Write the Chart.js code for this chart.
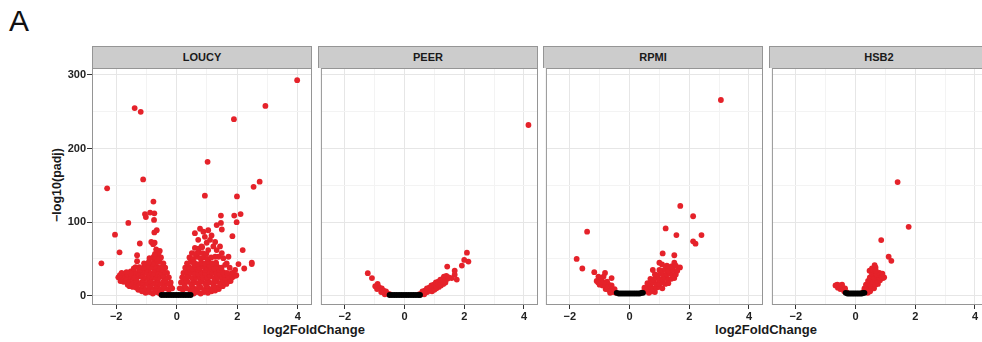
<!DOCTYPE html>
<html>
<head>
<meta charset="utf-8">
<title>Volcano plots</title>
<script src="https://cdn.jsdelivr.net/npm/chart.js@4.4.1/dist/chart.umd.min.js"></script>
<style>
  html, body { margin: 0; padding: 0; background: #ffffff; }
  body { position: relative; width: 982px; height: 342px; overflow: hidden;
         font-family: "Liberation Sans", Arial, sans-serif; }
  .tag { position: absolute; left: 9px; top: 6px; font-size: 30px; line-height: 30px; color: #111; }
  .strip { position: absolute; top: 46px; width: 220px; height: 22px; box-sizing: border-box;
           background: #cccccc; border: 1px solid #959595; border-bottom: none;
           font-weight: bold; font-size: 11px; line-height: 21px; color: #1a1a1a; text-align: center; }
  .panel { position: absolute; top: 58px; }
  .xtitle { position: absolute; top: 323px; font-weight: bold; font-size: 13px; line-height: 13px;
            color: #1a1a1a; white-space: nowrap; transform: translateX(-50%); }
  .ytitle { position: absolute; left: 57px; top: 185px; font-weight: bold; font-size: 12.5px; line-height: 13px;
            color: #1a1a1a; white-space: nowrap; transform: translate(-50%, -50%) rotate(-90deg); }
</style>
</head>
<body>
<div class="tag">A</div>
<div class="ytitle">&minus;log10(padj)</div>
<div class="xtitle" style="left:314px">log2FoldChange</div>
<div class="xtitle" style="left:766px">log2FoldChange</div>
<script>
// Cell lines shown as facets, left to right
const panelNames = ['LOUCY', 'PEER', 'RPMI', 'HSB2'];

// Axis ticks (major + minor grid positions)
const xTickValues = [-2, -1, 0, 1, 2, 3, 4];
const yTickValues = [0, 50, 100, 150, 200, 250, 300];

// Each gene: [log2FoldChange, -log10(padj)]
// ---- LOUCY ----
const loucyNs = [[-0.5,1],[-0.42,1],[-0.34,1],[-0.26,1],[-0.18,1],[-0.1,1],[-0.02,1],[0.06,1],[0.14,1],[0.22,1],[0.3,1],[0.38,1],[0.46,1]];
const loucySig = [
  [3.98,293],[-1.39,255],[-1.19,250],[2.93,258],[1.89,240],[1.02,182],[-1.11,158],[-2.30,146],[2.74,155],[2.54,148],[0.93,136],[1.99,135],
  [-0.77,128],[-1.05,111],[-0.88,113],[-0.74,112],[-1.02,107],[-0.75,103],[-1.60,99],[-2.04,83],[-2.49,44],[-1.89,59],[-1.22,71],
  [-0.66,89],[-0.74,86],[-0.84,73],[-0.73,72],[-0.78,70],[-0.56,61],[-0.62,55],[-1.31,55],[-1.31,47],[-0.92,46],
  [-1.36,39],[-1.19,35],[-1.03,33],[-1.52,33],[-1.68,28],[-1.46,24],[-1.14,28],[-0.92,30],[-0.75,48],[-0.64,39],[-1.77,25],
  [1.46,109],[1.90,109],[2.11,111],[1.98,100],[1.32,96],[1.46,99],[1.49,90],[1.84,81],[2.18,62],[2.48,45],[2.48,43],[2.23,37],[2.04,43],[1.93,35],[1.65,44],
  [0.60,85],[0.77,91],[0.88,87],[1.04,89],[0.71,76],[0.93,80],[1.10,76],[1.21,67],[1.32,62],[1.43,67],[1.49,58],[1.38,53],[1.54,51],[1.27,53],
  [1.04,62],[0.82,67],[1.15,82],[0.71,58],[1.60,42],[1.71,53],[1.27,73],[0.99,72],[1.84,31],[1.97,28],[1.75,38],
  // negative fold change, bulk
  [-0.56,3],[-0.67,5],[-0.79,3],[-0.9,5],[-1.03,4],[-1.15,6],[-1.27,8],
  [-0.15,10],[-0.26,8],[-0.37,10],[-0.49,8],[-0.61,10],[-0.73,9],[-0.85,11],[-0.97,8],[-1.09,10],[-1.21,9],[-1.33,11],[-1.45,12],[-1.56,13],
  [-0.21,14],[-0.43,13],[-0.67,14],[-0.91,13],[-1.15,14],[-1.39,13],[-1.62,15],
  [-0.2,18],[-0.32,17],[-0.44,19],[-0.56,16],[-0.68,18],[-0.8,17],[-0.92,19],[-1.04,16],[-1.16,18],[-1.28,17],[-1.4,19],[-1.52,17],[-1.64,18],[-1.76,19],[-1.86,20],
  [-0.38,21],[-0.62,22],[-0.86,21],[-1.1,22],[-1.34,21],[-1.58,22],[-1.8,23],
  [-0.26,25],[-0.38,24],[-0.5,26],[-0.62,24],[-0.74,25],[-0.86,26],[-0.98,24],[-1.1,25],[-1.22,26],[-1.34,24],[-1.46,25],[-1.58,26],[-1.7,24],[-1.82,26],[-1.93,25],
  [-0.44,28],[-0.68,29],[-0.92,28],[-1.16,29],[-1.4,28],[-1.64,29],[-1.88,28],
  [-0.32,31],[-0.44,33],[-0.56,31],[-0.68,32],[-0.8,30],[-0.92,32],[-1.04,31],[-1.16,33],[-1.28,31],[-1.4,32],[-1.52,30],[-1.66,32],[-1.82,31],
  [-0.5,36],[-0.74,35],[-0.98,36],[-1.22,35],
  [-0.38,38],[-0.5,39],[-0.62,37],[-0.74,39],[-0.86,38],[-0.98,40],[-1.1,38],[-1.24,39],[-1.42,37],
  [-0.44,44],[-0.56,46],[-0.68,45],[-0.8,43],[-0.92,45],[-1.08,44],[-0.62,49],
  [-0.52,52],[-0.64,50],[-0.76,53],[-0.9,51],
  [-0.6,58],[-0.72,57],[-0.68,63],
  // positive fold change, bulk
  [0.56,3],[0.67,5],[0.79,3],[0.9,5],[1.03,4],[1.15,6],[1.27,7],[1.39,9],
  [0.1,10],[0.2,8],[0.32,10],[0.44,8],[0.56,10],[0.68,9],[0.8,11],[0.92,8],[1.04,10],[1.16,9],[1.28,11],[1.4,12],[1.52,13],
  [0.26,13],[0.5,14],[0.74,13],[0.98,14],[1.22,13],[1.46,15],[1.64,16],
  [0.14,18],[0.24,17],[0.36,19],[0.48,16],[0.6,18],[0.72,17],[0.84,19],[0.96,16],[1.08,18],[1.2,17],[1.32,19],[1.44,17],[1.56,18],[1.68,19],[1.78,20],
  [0.3,21],[0.54,22],[0.78,21],[1.02,22],[1.26,21],[1.5,22],[1.74,23],
  [0.18,25],[0.28,24],[0.4,26],[0.52,24],[0.64,25],[0.76,26],[0.88,24],[1.0,25],[1.12,26],[1.24,24],[1.36,25],[1.48,26],[1.6,24],[1.72,26],[1.84,25],[1.94,27],
  [0.36,28],[0.6,29],[0.84,28],[1.08,29],[1.32,28],[1.56,29],[1.8,30],
  [0.22,31],[0.34,33],[0.46,31],[0.58,32],[0.7,30],[0.82,32],[0.94,31],[1.06,33],[1.18,31],[1.3,32],[1.42,30],[1.54,32],[1.66,31],
  [0.46,35],[0.7,36],[0.94,35],[1.18,36],[1.42,35],
  [0.28,38],[0.4,39],[0.52,37],[0.64,39],[0.76,38],[0.88,40],[1.0,38],[1.12,39],[1.24,37],[1.36,39],[1.48,38],
  [0.58,42],[0.82,43],[1.06,42],[1.3,43],
  [0.34,44],[0.46,46],[0.58,45],[0.7,43],[0.82,45],[0.94,44],[1.06,46],[1.18,44],[1.3,45],
  [0.42,52],[0.54,50],[0.66,53],[0.78,51],[0.9,52],[1.02,50],[1.14,52],
  [0.5,58],[0.62,57],[0.74,59],[0.86,58],[0.98,57],
  [0.6,65],[0.72,64],[0.84,66]
];

// ---- PEER ----
const peerNs = [[-0.5,1],[-0.42,1],[-0.34,1],[-0.26,1],[-0.18,1],[-0.1,1],[-0.02,1],[0.06,1],[0.14,1],[0.22,1],[0.3,1],[0.38,1],[0.46,1],[0.52,1]];
const peerSig = [
  [4.15,232],[2.09,58.5],[2.0,48.6],[2.14,46.4],[1.92,41],[1.43,39.6],[1.68,34],[1.68,28.5],[1.58,24],[1.75,22],
  [-1.23,30.6],[-1.09,24],[-0.9,16],
  [0.5,2],[0.58,3],[0.66,2],
  [0.6,6],[0.68,7],[0.76,5],[0.84,7],[0.92,6],[1.0,8],
  [0.75,10],[0.83,11],[0.91,9],[0.99,11],[1.07,10],[1.15,12],
  [0.9,14],[0.98,15],[1.06,13],[1.14,15],[1.22,14],[1.3,16],
  [1.05,18],[1.13,19],[1.21,17],[1.29,19],[1.37,18],
  [1.2,22],[1.28,23],[1.36,21],[1.44,23],
  [1.32,26],[1.4,27],[1.48,25],
  [-0.5,2],[-0.58,3],[-0.66,2],
  [-0.62,6],[-0.7,7],[-0.78,5],
  [-0.76,10],[-0.84,11],[-0.92,9],
  [-0.9,14],[-0.98,13]
];

// ---- RPMI ----
const rpmiNs = [[-0.43,4],[-0.36,3],[-0.29,3],[-0.22,3],[-0.15,3],[-0.08,3],[-0.01,3],[0.06,3],[0.13,3],[0.2,3],[0.27,3],[0.34,3],[0.4,4],[0.45,4]];
const rpmiSig = [
  [3.06,266],[1.70,122],[2.13,108],[1.21,91.5],[1.57,82.4],[2.41,82.4],[2.13,74],[2.21,70.7],[1.11,57.5],[1.50,55],
  [1.0,44.8],[1.09,42.6],[1.50,44.8],[1.69,38.5],[1.45,40],[1.34,35],[0.78,35],
  [-1.42,87],[-1.77,50],[-1.58,37],[-1.18,32],[-0.82,31],[-0.87,26],[-1.04,26],[-0.6,24],[-0.95,22],[-1.1,20],
  [0.45,5],[0.55,6],[0.65,4],[0.75,6],[0.85,5],
  [0.5,11],[0.6,10],[0.7,12],[0.8,10],[0.9,11],[1.0,12],[1.1,10],
  [0.6,17],[0.7,16],[0.8,18],[0.9,16],[1.0,17],[1.1,18],[1.2,16],[1.3,17],
  [0.7,23],[0.8,22],[0.9,24],[1.0,22],[1.1,23],[1.2,24],[1.3,22],[1.4,23],[1.5,24],
  [0.85,29],[0.95,28],[1.05,30],[1.15,28],[1.25,29],[1.35,30],[1.45,28],[1.55,29],
  [1.0,35],[1.1,34],[1.2,36],[1.3,34],[1.45,35],[1.6,34],
  [1.25,41],[1.4,40],[1.55,41],
  [-0.45,4],[-0.55,5],[-0.65,4],
  [-0.5,9],[-0.6,10],[-0.7,8],[-0.8,9],
  [-0.6,14],[-0.7,15],[-0.8,13],[-0.9,14],[-1.0,15],
  [-0.75,19],[-0.85,18],[-0.95,19],[-1.05,18]
];

// ---- HSB2 ----
const hsb2Ns = [[-0.33,4],[-0.27,3],[-0.21,3],[-0.15,3],[-0.09,3],[-0.03,3],[0.03,3],[0.09,3],[0.15,3],[0.21,3],[0.26,4],[0.3,4]];
const hsb2Sig = [
  [1.41,154.5],[1.78,93.7],[0.86,75.6],[1.11,53],[1.2,47.5],[0.64,41.7],[0.67,38.5],[0.47,34],[0.7,31.5],[0.86,27.4],[0.89,29],[0.55,37],[0.92,24],
  [0.25,5],[0.33,6],[0.41,4],[0.49,6],
  [0.3,10],[0.38,11],[0.46,9],[0.54,11],[0.62,10],
  [0.35,15],[0.43,16],[0.51,14],[0.59,16],[0.67,15],[0.75,16],
  [0.42,20],[0.5,21],[0.58,19],[0.66,21],[0.74,20],[0.82,21],
  [0.48,25],[0.56,26],[0.64,24],[0.72,26],[0.8,25],[0.88,26],[0.96,25],
  [0.55,30],[0.63,31],[0.71,29],[0.8,31],[0.9,30],
  [0.58,35],[0.68,34],
  [-0.3,5],[-0.38,6],
  [-0.35,10],[-0.43,11],[-0.51,9],[-0.59,11],
  [-0.45,15],[-0.53,14],[-0.61,15],[-0.67,14]
];

const nsSets = [loucyNs, peerNs, rpmiNs, hsb2Ns];
const sigSets = [loucySig, peerSig, rpmiSig, hsb2Sig];

// Layout of the facet grid
const panelLefts = [92, 318, 543, 769];
const panelWidth = 220;
const axisSpace = 92;           // room for the shared y axis on the first facet
const RED = '#e5222a';
const DOT = 2.9;
const TICK_FONT = { family: '"Liberation Sans", Arial, sans-serif', weight: 'bold', size: 11 };

const framePlugin = {
  id: 'panelFrame',
  afterDraw(chart) {
    const { ctx, chartArea: a } = chart;
    ctx.save();
    ctx.strokeStyle = '#959595';
    ctx.lineWidth = 1;
    ctx.strokeRect(a.left + 0.5, a.top + 0.5, a.right - a.left - 1, a.bottom - a.top - 1);
    ctx.restore();
  }
};

const toPoints = arr => arr.map(([x, y]) => ({ x, y }));
const fmtX = v => (v % 2 === 0 ? (v < 0 ? '\u2212' + (-v) : String(v)) : '');

panelNames.forEach((name, i) => {
  const first = i === 0;
  const lead = first ? axisSpace : 0;

  const strip = document.createElement('div');
  strip.className = 'strip';
  strip.style.left = panelLefts[i] + 'px';
  strip.textContent = name;
  document.body.appendChild(strip);

  const box = document.createElement('div');
  box.className = 'panel';
  box.style.left = (panelLefts[i] - lead) + 'px';
  const canvas = document.createElement('canvas');
  const w = lead + panelWidth + 6;
  const h = 10 + 237 + 30;
  canvas.width = w; canvas.height = h;
  canvas.style.width = w + 'px'; canvas.style.height = h + 'px';
  box.appendChild(canvas);
  document.body.appendChild(box);

  new Chart(canvas, {
    type: 'scatter',
    data: {
      datasets: [
        { data: toPoints(nsSets[i]), backgroundColor: '#000000', pointRadius: DOT, borderWidth: 0, pointHoverRadius: DOT },
        { data: toPoints(sigSets[i]), backgroundColor: RED, pointRadius: DOT, borderWidth: 0, pointHoverRadius: DOT }
      ]
    },
    options: {
      responsive: false,
      animation: false,
      devicePixelRatio: 1,
      events: [],
      layout: { padding: { top: 10, right: 6, left: 0, bottom: 0 } },
      plugins: { legend: { display: false }, tooltip: { enabled: false } },
      scales: {
        x: {
          type: 'linear', min: -2.8, max: 4.47,
          afterBuildTicks: s => { s.ticks = xTickValues.map(v => ({ value: v })); },
          afterFit: s => { s.height = 30; },
          border: { display: false },
          grid: {
            color: c => (c.tick && c.tick.value % 2 === 0 ? '#e6e6e6' : '#f3f3f3'),
            lineWidth: 1,
            drawTicks: true, tickLength: 4, tickWidth: 1,
            tickColor: c => (c.tick && c.tick.value % 2 === 0 ? '#333333' : 'rgba(0,0,0,0)')
          },
          ticks: { autoSkip: false, maxRotation: 0, padding: 1, color: '#222222', font: TICK_FONT, callback: fmtX }
        },
        y: {
          type: 'linear', min: -12.6, max: 309.5,
          afterBuildTicks: s => { s.ticks = yTickValues.map(v => ({ value: v })); },
          afterFit: s => { s.width = lead; },
          border: { display: false },
          grid: {
            color: c => (c.tick && c.tick.value % 100 === 0 ? '#e6e6e6' : '#f3f3f3'),
            lineWidth: 1,
            drawTicks: first, tickLength: 5, tickWidth: 1,
            tickColor: c => (c.tick && c.tick.value % 100 === 0 ? '#333333' : 'rgba(0,0,0,0)')
          },
          ticks: {
            display: first, autoSkip: false, padding: 1, color: '#222222', font: TICK_FONT,
            callback: v => (v % 100 === 0 ? String(v) : '')
          }
        }
      }
    },
    plugins: [framePlugin]
  });
});
</script>
</body>
</html>
